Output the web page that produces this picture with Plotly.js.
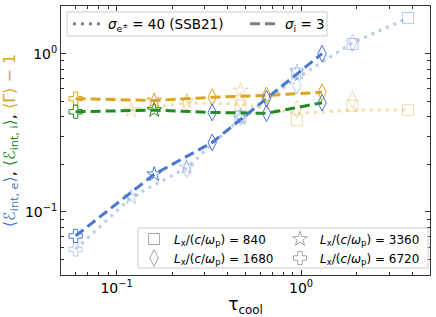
<!DOCTYPE html>
<html>
<head>
<meta charset="utf-8">
<script src="https://cdn.plot.ly/plotly-3.0.1.min.js"></script>
<style>html,body{margin:0;padding:0;background:#fff;}#chart{width:436px;height:317px;}</style>
</head>
<body>
<div id="chart"></div>
<script>
// ---- Data: sigma_i = 3 runs (dashed) ----
const tauDashed   = [0.06, 0.16, 0.33, 0.65, 1.3];
const elecDashed  = [0.0706, 0.173, 0.275, 0.52, 1.0];
const ionDashed   = [0.43, 0.44, 0.425, 0.42, 0.49];
const gammaDashed = [0.52, 0.506, 0.53, 0.545, 0.57];
const boxDashed   = [6720, 3360, 1680, 1680, 1680];

// ---- Data: sigma_e± = 40 (SSB21) runs (dotted) ----
const tauSSBLine   = [0.06, 0.12, 0.24, 0.47, 0.95, 1.9, 3.8];
const elecSSBLine  = [0.058, 0.124, 0.19, 0.39, 0.70, 1.17, 1.68];
const tauSSBGLine  = [0.12, 0.24, 0.47, 0.95, 1.9, 3.8];
const gammaSSBLine = [0.44, 0.49, 0.48, 0.42, 0.44, 0.44];

const tauSSBElec  = [0.06, 0.12, 0.24, 0.24, 0.47, 0.47, 0.47, 0.95, 0.95, 0.95, 1.9, 1.9, 3.8];
const elecSSB     = [0.058, 0.124, 0.192, 0.186, 0.39, 0.40, 0.40, 0.77, 0.63, 0.75, 1.17, 1.15, 1.68];
const boxSSBElec  = [6720, 3360, 3360, 1680, 3360, 1680, 840, 3360, 1680, 840, 1680, 840, 840];

const tauSSBGam   = [0.12, 0.24, 0.24, 0.47, 0.47, 0.47, 0.95, 0.95, 1.9, 1.9, 3.8];
const gammaSSB    = [0.44, 0.50, 0.49, 0.585, 0.50, 0.47, 0.445, 0.38, 0.51, 0.47, 0.44];
const boxSSBGam   = [3360, 3360, 1680, 3360, 1680, 840, 1680, 840, 1680, 840, 840];

const boxSizes  = [840, 1680, 3360, 6720];
const boxLabels = ['840', '1680', '3360', '6720'];

// ---- Styles ----
const BLUE = 'rgb(72,120,208)', ORANGE = 'rgb(218,165,32)', GREEN = 'rgb(34,139,34)';
const BLUE_L = 'rgba(72,120,208,0.38)', ORANGE_L = 'rgba(218,165,32,0.38)';
const symbolFor = {840:'square-open', 1680:'diamond-tall-open', 3360:'star-open', 6720:'cross-open'};
const sizeFor = {840:11, 1680:12, 3360:11, 6720:11};
const legendFor = {840:'legend2', 1680:'legend2', 3360:'legend3', 6720:'legend3'};

const traces = [];
function lineTrace(x, y, color, dash, width) {
  traces.push({x:x, y:y, mode:'lines', type:'scatter', showlegend:false, hoverinfo:'skip',
    line:{color:color, dash:dash, width:width}});
}
function markerTraces(x, y, boxes, colorFn) {
  boxSizes.forEach(b => {
    const xs = [], ys = [];
    boxes.forEach((bb, i) => { if (bb === b) { xs.push(x[i]); ys.push(y[i]); } });
    if (!xs.length) return;
    traces.push({x:xs, y:ys, mode:'markers', type:'scatter', showlegend:false, hoverinfo:'skip',
      marker:{symbol:symbolFor[b], size:sizeFor[b], color:colorFn(b), line:{width:1, color:colorFn(b)}}});
  });
}

// dotted SSB21
lineTrace(tauSSBGLine, gammaSSBLine, ORANGE_L, '3px,5px', 3);
lineTrace(tauSSBLine, elecSSBLine, BLUE_L, '3px,5px', 3);
markerTraces(tauSSBGam, gammaSSB, boxSSBGam, () => ORANGE_L);
markerTraces(tauSSBElec, elecSSB, boxSSBElec, () => BLUE_L);

// dashed sigma_i = 3
lineTrace(tauDashed, gammaDashed, ORANGE, '10px,5px', 3);
lineTrace(tauDashed, ionDashed, GREEN, '10px,5px', 3);
lineTrace(tauDashed, elecDashed, BLUE, '10px,5px', 3);
markerTraces(tauDashed, gammaDashed, boxDashed, () => ORANGE);
markerTraces(tauDashed, ionDashed, boxDashed, b => (b === 1680 ? BLUE : GREEN));
markerTraces(tauDashed, elecDashed, boxDashed, () => BLUE);

// legend entries
const GRAY = 'rgb(128,128,128)';
traces.push({x:[null], y:[null], mode:'lines', type:'scatter', legend:'legend',
  name:'<i>σ</i><sub>e<sup>±</sup></sub> = 40 (SSB21)', line:{color:GRAY, dash:'3px,5px', width:3}});
traces.push({x:[null], y:[null], mode:'lines', type:'scatter', legend:'legend4',
  name:'<i>σ</i><sub>i</sub> = 3', line:{color:GRAY, dash:'10px,5px', width:3}});
boxSizes.forEach((b, i) => {
  traces.push({x:[null], y:[null], mode:'markers', type:'scatter', legend:legendFor[b],
    name:'<i>L</i><sub>x</sub>/(<i>c</i>/<i>ω</i><sub>p</sub>) = ' + boxLabels[i],
    marker:{symbol:symbolFor[b], size:sizeFor[b], color:'rgba(128,128,128,0.7)', line:{width:1, color:'rgba(128,128,128,0.7)'}}});
});

const xMinor = [0.06,0.07,0.08,0.09,0.2,0.3,0.4,0.5,0.6,0.7,0.8,0.9,2,3,4];
const yMinor = [0.04,0.05,0.06,0.07,0.08,0.09,0.2,0.3,0.4,0.5,0.6,0.7,0.8,0.9,2];
const FONT = 'DejaVu Sans, sans-serif';

const legBase = {bgcolor:'rgba(0,0,0,0)', borderwidth:0, orientation:'v', itemwidth:30, traceorder:'normal'};

const layout = {
  width:436, height:317,
  margin:{l:61, r:6, t:6, b:42},
  paper_bgcolor:'#fff', plot_bgcolor:'#fff',
  font:{family:FONT, color:'#000', size:14},
  xaxis:{type:'log', range:[Math.log10(0.05), Math.log10(5)],
    tickmode:'array', tickvals:[0.1, 1], ticktext:['10<sup>−1</sup>','10<sup>0</sup>'],
    ticks:'inside', ticklen:5, tickwidth:1, tickcolor:'#333',
    minor:{tickmode:'array', tickvals:xMinor, ticks:'inside', ticklen:3, tickcolor:'#333', showgrid:false},
    showline:true, linecolor:'#333', linewidth:1, mirror:'allticks', showgrid:false, zeroline:false,
    tickfont:{size:14},
    title:{text:'τ<sub>cool</sub>', font:{size:17}, standoff:8}},
  yaxis:{type:'log', range:[Math.log10(0.04), Math.log10(2)],
    tickmode:'array', tickvals:[0.1, 1], ticktext:['10<sup>−1</sup>','10<sup>0</sup>'],
    ticks:'inside', ticklen:5, tickwidth:1, tickcolor:'#333',
    minor:{tickmode:'array', tickvals:yMinor, ticks:'inside', ticklen:3, tickcolor:'#333', showgrid:false},
    showline:true, linecolor:'#333', linewidth:1, mirror:'allticks', showgrid:false, zeroline:false,
    tickfont:{size:14},
    title:{text:'<span style="color:'+BLUE+'">⟨<i>ℰ</i><sub>int, e</sub>⟩</span>, <span style="color:'+GREEN+'">⟨<i>ℰ</i><sub>int, i</sub>⟩</span>, <span style="color:'+ORANGE+'">⟨Γ⟩ − 1</span>',
      font:{size:16}, standoff:5}},
  legend: Object.assign({}, legBase, {x:0.019, y:0.933, xanchor:'left', yanchor:'middle', font:{size:13.5}}),
  legend4: Object.assign({}, legBase, {x:0.4986, y:0.933, xanchor:'left', yanchor:'middle', font:{size:13.5}}),
  legend2: Object.assign({}, legBase, {x:0.198, y:0.0985, xanchor:'left', yanchor:'middle', font:{size:12}, tracegroupgap:0}),
  legend3: Object.assign({}, legBase, {x:0.5935, y:0.0985, xanchor:'left', yanchor:'middle', font:{size:12}, tracegroupgap:0}),
  shapes:[
    {type:'rect', xref:'paper', yref:'paper', x0:0.0163, x1:0.721, y0:0.8885, y1:0.9777,
      line:{color:'#cccccc', width:1}, fillcolor:'rgba(255,255,255,0.8)', layer:'above'},
    {type:'rect', xref:'paper', yref:'paper', x0:0.2087, x1:0.995, y0:0.026, y1:0.1747,
      line:{color:'#cccccc', width:1}, fillcolor:'rgba(255,255,255,0.8)', layer:'above'}
  ],
  showlegend:true
};

Plotly.newPlot('chart', traces, layout, {staticPlot:true, displayModeBar:false});
</script>
</body>
</html>
